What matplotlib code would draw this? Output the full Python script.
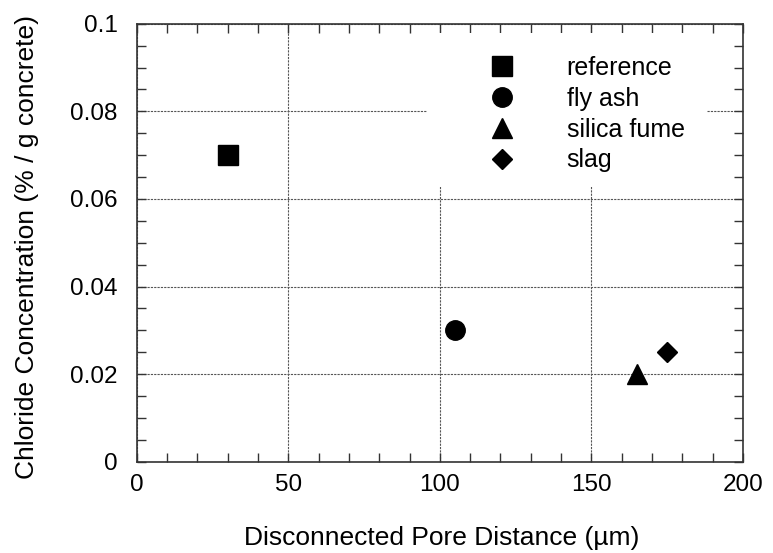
import matplotlib
matplotlib.use("Agg")
import matplotlib.pyplot as plt
from matplotlib.patches import Rectangle
from matplotlib.ticker import MultipleLocator, FormatStrFormatter

plt.rcParams['font.family'] = ['Liberation Sans', 'DejaVu Sans']

# Данные
labels = ["reference", "fly ash", "silica fume", "slag"]
pore_distance = [30, 105, 165, 175]
chloride = [0.070, 0.030, 0.020, 0.025]
markers = ["s", "o", "^", "D"]
sizes = [14, 14, 14.5, 10]

fig = plt.figure(figsize=(7.73, 5.53), dpi=100)
ax = fig.add_axes([0.177, 0.165, 0.784, 0.792])

for name, x, y, m, s in zip(labels, pore_distance, chloride, markers, sizes):
    ax.plot([x], [y], linestyle="none", marker=m, markersize=s, color="black",
            label=name, zorder=3)

ax.set_xlim(0, 200)
ax.set_ylim(0, 0.1)
ax.xaxis.set_major_locator(MultipleLocator(50))
ax.xaxis.set_minor_locator(MultipleLocator(10))
ax.yaxis.set_major_locator(MultipleLocator(0.02))
ax.yaxis.set_minor_locator(MultipleLocator(0.005))
ax.yaxis.set_major_formatter(FormatStrFormatter("%g"))

ax.tick_params(which="both", direction="in", top=True, right=True,
               length=6.5, width=1.0, color="#333333")
ax.tick_params(axis="x", which="major", pad=9, labelsize=17.5)
ax.tick_params(axis="y", which="major", pad=14, labelsize=17.5)
for sp in ax.spines.values():
    sp.set_linewidth(1.2)
    sp.set_color("#333333")

ax.grid(True, which="major", linestyle=(0, (2, 1)), linewidth=0.8, color="#555555")

# белая подложка под легендой (закрывает сетку)
ax.add_patch(Rectangle((0.479, 0.628), 0.462, 0.351, transform=ax.transAxes,
                       facecolor="white", edgecolor="none", zorder=1.6))

ax.legend(loc="upper left", bbox_to_anchor=(0.565, 0.949), frameon=False,
          fontsize=18, handletextpad=2.1, labelspacing=0.27,
          handlelength=1.0, borderaxespad=0)

ax.set_xlabel("Disconnected Pore Distance (µm)", fontsize=19, va="center")
ax.set_ylabel("Chloride Concentration (% / g concrete)", fontsize=19, va="center")
ax.xaxis.set_label_coords(0.503, -0.175)
ax.yaxis.set_label_coords(-0.182, 0.49)

fig.savefig("out.png", dpi=100)
plt.close(fig)
